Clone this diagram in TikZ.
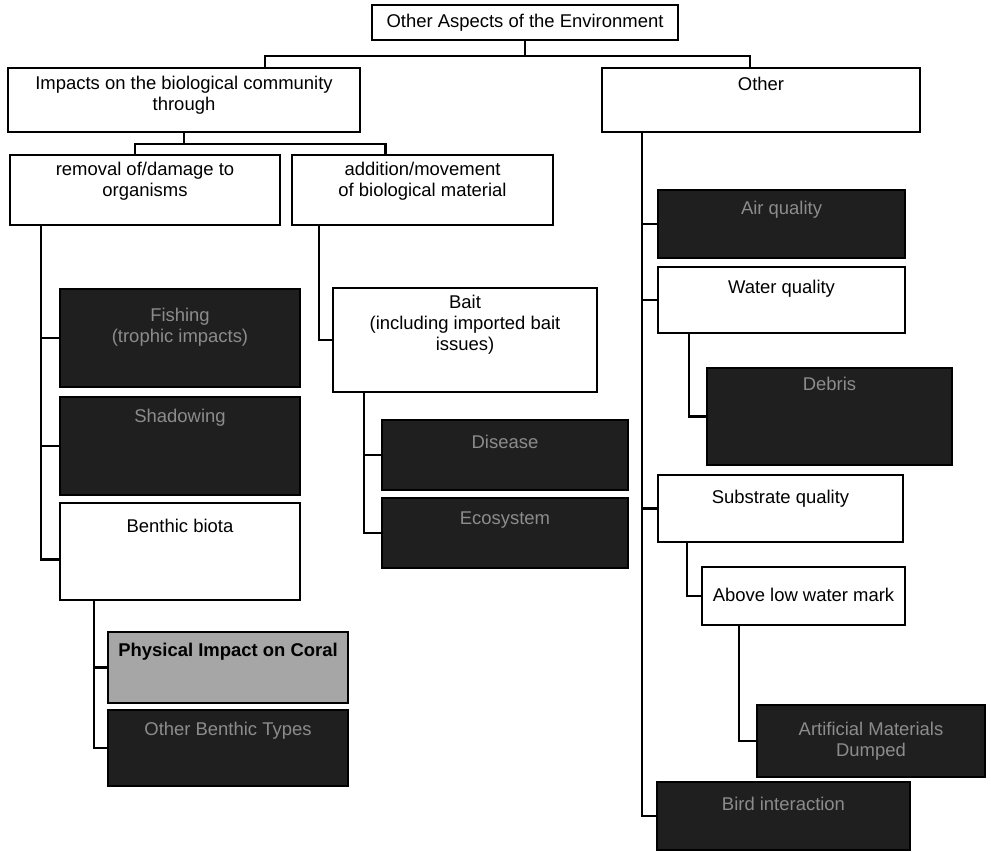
\documentclass[tikz,border=0pt]{standalone}
\usepackage{fontspec}
\setmainfont{Liberation Sans}
\usetikzlibrary{calc}
\begin{document}
\begin{tikzpicture}[x=0.02cm,y=-0.02cm,
  every node/.style={font=\fontsize{10.5}{12}\selectfont},
  box/.style={draw=black, line width=1.3pt, fill=white, inner sep=0pt},
  darkbox/.style={box, fill=black!88},
  greybox/.style={box, fill=black!35},
  lbl/.style={anchor=north, align=center, inner sep=0pt, text=black},
  dlbl/.style={lbl, text=black!45},
  wire/.style={line width=1.3pt, draw=black}]
\useasboundingbox (0,0) rectangle (991,852);

% box: style, name, x1, y1, x2, y2
\newcommand\bx[6]{%
  \node[#1, minimum width={(#5-#3)*0.02cm}, minimum height={(#6-#4)*0.02cm}]
    (#2) at ({(#3+#5)/2},{(#4+#6)/2}) {};}
% text inside a box: label style, box name, offset from top, text
\newcommand\tx[4]{\node[#1] (#2-t) at ($(#2.north)+(0,#3)$) {#4};}

% ---- boxes ----
\bx{box}{root}{372}{5}{678}{40}
\node[inner sep=0pt] (root-t) at (root.center) {Other Aspects of the Environment};

\bx{box}{imp}{8}{68}{360}{132}
\tx{lbl}{imp}{9}{Impacts on the biological community\\through}
\bx{box}{oth}{602}{68}{920}{132}
\tx{lbl}{oth}{10}{Other}

\bx{box}{rem}{10}{155}{280}{225}
\tx{lbl}{rem}{8}{removal of/damage to\\organisms}
\bx{box}{add}{292}{155}{553}{225}
\tx{lbl}{add}{8}{addition/movement\\of biological material}

\bx{darkbox}{fish}{60}{289}{300}{387}
\tx{dlbl}{fish}{20}{Fishing\\(trophic impacts)}
\bx{darkbox}{shad}{60}{397}{300}{495}
\tx{dlbl}{shad}{13}{Shadowing}
\bx{box}{bent}{60}{503}{300}{600}
\tx{lbl}{bent}{17}{Benthic biota}
\bx{greybox}{phys}{108}{632}{348}{703}
\tx{lbl}{phys}{12}{\bfseries Physical Impact on Coral}
\bx{darkbox}{obt}{108}{710}{348}{786}
\tx{dlbl}{obt}{13}{Other Benthic Types}

\bx{box}{bait}{333}{288}{597}{392}
\tx{lbl}{bait}{8}{Bait\\(including imported bait\\issues)}
\bx{darkbox}{dis}{382}{420}{628}{490}
\tx{dlbl}{dis}{16}{Disease}
\bx{darkbox}{eco}{382}{498}{628}{568}
\tx{dlbl}{eco}{15}{Ecosystem}

\bx{darkbox}{air}{658}{190}{905}{258}
\tx{dlbl}{air}{12}{Air quality}
\bx{box}{wat}{658}{267}{905}{333}
\tx{lbl}{wat}{14}{Water quality}
\bx{darkbox}{deb}{707}{368}{952}{465}
\tx{dlbl}{deb}{10}{Debris}
\bx{box}{sub}{658}{475}{903}{542}
\tx{lbl}{sub}{16}{Substrate quality}
\bx{box}{alw}{702}{567}{905}{625}
\tx{lbl}{alw}{22}{Above low water mark}
\bx{darkbox}{art}{757}{705}{985}{777}
\tx{dlbl}{art}{18}{Artificial Materials\\Dumped}
\bx{darkbox}{bird}{657}{782}{910}{850}
\tx{dlbl}{bird}{16}{Bird interaction}

% ---- connectors ----
\coordinate (j0) at ($(root.south)+(0,15)$);
\draw[wire] (root.south) -- (j0);
\draw[wire] (j0) -| ($(imp.north)+(81,0)$);
\draw[wire] (j0) -| ($(oth.north)+(-11,0)$);

\coordinate (j1) at ($(imp.south)+(0,11)$);
\draw[wire] (imp.south) -- (j1);
\draw[wire] (j1) -| ($(rem.north)+(-10,0)$);
\draw[wire] (j1) -| ($(add.north)+(-37,0)$);

\draw[wire] ($(rem.south west)+(32,0)$) |- (fish.west);
\draw[wire] ($(rem.south west)+(32,0)$) |- (shad.west);
\draw[wire] ($(rem.south west)+(32,0)$) |- ($(bent.west)+(0,8)$);

\draw[wire] ($(bent.south west)+(35,0)$) |- (phys.west);
\draw[wire] ($(bent.south west)+(35,0)$) |- (obt.west);

\draw[wire] ($(add.south west)+(28,0)$) |- (bait.west);
\draw[wire] ($(bait.south west)+(32,0)$) |- (dis.west);
\draw[wire] ($(bait.south west)+(32,0)$) |- (eco.west);

\draw[wire] ($(oth.south west)+(41,0)$) |- (air.west);
\draw[wire] ($(oth.south west)+(41,0)$) |- (wat.west);
\draw[wire] ($(oth.south west)+(41,0)$) |- (sub.west);
\draw[wire] ($(oth.south west)+(41,0)$) |- (bird.west);

\draw[wire] ($(wat.south west)+(32,0)$) |- (deb.west);
\draw[wire] ($(sub.south west)+(30,0)$) |- (alw.west);
\draw[wire] ($(alw.south west)+(38,0)$) |- (art.west);
\end{tikzpicture}
\end{document}
